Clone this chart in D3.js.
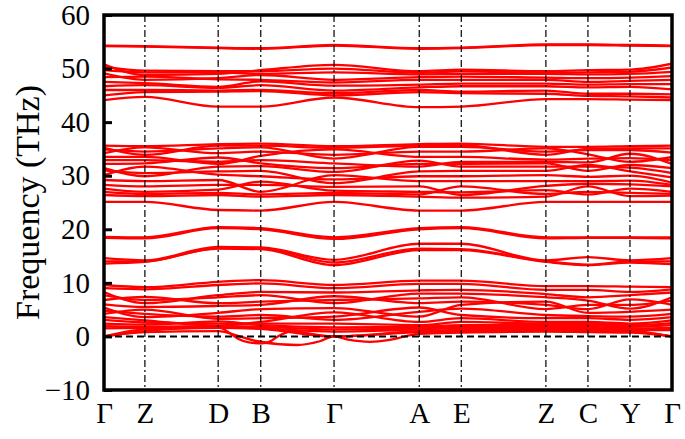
<!DOCTYPE html>
<html>
<head>
<meta charset="utf-8">
<script src="https://cdn.jsdelivr.net/npm/d3@7"></script>
<style>
  html, body { margin: 0; padding: 0; background: #fff; }
  svg { display: block; }
  text { font-family: "Liberation Serif", "Times New Roman", serif; }
</style>
</head>
<body>
<svg id="chart" width="685" height="439"></svg>
<script>
// ---- Data ----
const kLabels = ["Γ", "Z", "D", "B", "Γ", "A", "E", "Z", "C", "Y", "Γ"];
const kPos = [0, 0.072, 0.201, 0.276, 0.405, 0.555, 0.629, 0.778, 0.852, 0.926, 1.0];
const yTicks = [-10, 0, 10, 20, 30, 40, 50, 60];

// bands given at the high-symmetry points (THz)
const bandsTop = [
  [54.3, 54.2, 53.9, 53.8, 54.4, 53.8, 53.9, 54.5, 54.5, 54.4, 54.3],
  [54.2, 54.1, 53.8, 53.7, 54.3, 53.7, 53.8, 54.4, 54.4, 54.3, 54.2]
];
const bandsHigh = [
  [50.8, 48.8, 49.0, 49.7, 50.7, 49.5, 49.8, 49.5, 49.7, 49.8, 50.9],
  [50.3, 49.6, 49.5, 49.5, 50.0, 49.2, 49.5, 49.2, 49.3, 49.4, 50.2],
  [49.7, 49.3, 49.3, 49.0, 49.3, 48.9, 49.0, 49.0, 48.9, 49.0, 49.4],
  [49.1, 47.9, 48.2, 48.8, 47.9, 48.4, 48.5, 48.3, 48.2, 48.3, 48.6],
  [48.4, 48.5, 48.0, 47.9, 47.4, 47.9, 47.9, 47.9, 47.5, 47.7, 47.9],
  [47.5, 47.3, 46.6, 47.6, 46.8, 47.0, 47.2, 47.2, 47.0, 47.1, 47.1],
  [46.7, 46.9, 46.4, 46.9, 45.9, 46.5, 46.7, 46.7, 46.5, 46.6, 46.1],
  [46.0, 46.0, 45.9, 46.0, 45.4, 46.0, 45.7, 45.9, 45.3, 45.3, 45.2],
  [45.0, 45.6, 45.7, 45.8, 45.0, 45.6, 45.4, 45.3, 44.9, 44.8, 44.6],
  [44.1, 44.7, 42.9, 42.9, 44.6, 42.8, 42.9, 44.3, 44.3, 44.2, 44.1]
];
const bandsMid = [
  [35.6, 35.5, 35.9, 36.0, 35.5, 35.9, 36.0, 35.4, 35.4, 35.5, 35.6],
  [35.2, 33.9, 35.6, 35.6, 35.2, 35.6, 35.7, 33.9, 35.0, 35.1, 35.1],
  [34.9, 34.5, 35.1, 35.3, 33.2, 35.4, 35.4, 34.5, 34.8, 34.8, 34.3],
  [34.2, 35.3, 34.2, 34.5, 33.9, 34.5, 34.5, 35.1, 34.0, 32.6, 33.5],
  [33.5, 33.5, 32.2, 33.7, 34.9, 33.5, 33.5, 33.0, 33.2, 33.3, 32.9],
  [32.9, 32.9, 32.6, 32.9, 32.3, 31.7, 32.6, 32.6, 32.5, 34.1, 32.2],
  [32.2, 32.3, 33.4, 32.3, 31.4, 32.2, 32.2, 32.3, 30.9, 32.0, 31.4],
  [31.4, 29.9, 31.7, 31.8, 30.7, 32.8, 31.7, 31.7, 31.7, 31.5, 30.5],
  [31.0, 30.5, 30.8, 30.9, 28.6, 30.8, 30.9, 30.9, 32.0, 30.8, 29.7],
  [30.1, 31.7, 30.2, 29.9, 29.3, 29.9, 29.9, 30.1, 29.8, 30.0, 28.7],
  [29.2, 29.0, 29.2, 27.0, 30.1, 29.0, 29.0, 29.0, 29.0, 29.1, 28.3],
  [28.3, 28.0, 28.3, 28.3, 27.9, 28.0, 26.4, 28.1, 28.5, 28.4, 28.0],
  [27.6, 27.0, 27.4, 28.9, 27.2, 27.0, 26.9, 27.3, 26.5, 27.6, 27.0],
  [27.0, 26.6, 26.8, 26.5, 26.8, 26.5, 28.0, 26.6, 27.0, 26.8, 26.6],
  [26.4, 26.2, 26.4, 26.1, 26.4, 26.1, 25.9, 26.1, 28.0, 26.2, 26.3],
  [25.1, 25.1, 23.6, 23.5, 25.1, 23.5, 23.5, 25.1, 25.1, 25.1, 25.1]
];
const bandsGap = [
  [18.6, 18.5, 20.4, 20.2, 18.5, 20.2, 20.4, 18.5, 18.5, 18.5, 18.5],
  [18.4, 18.3, 20.2, 20.0, 18.2, 20.0, 20.2, 18.3, 18.4, 18.4, 18.3],
  [14.6, 14.2, 16.7, 16.6, 14.3, 17.3, 17.3, 14.2, 14.8, 14.2, 14.6],
  [14.0, 14.0, 16.5, 16.5, 13.8, 16.4, 16.3, 14.0, 13.4, 14.0, 14.0],
  [13.6, 13.9, 16.4, 16.3, 13.3, 16.1, 16.1, 13.9, 13.3, 13.8, 13.5]
];
const bandsLow = [
  [9.6, 9.2, 10.2, 10.5, 9.6, 10.4, 10.4, 9.4, 9.4, 9.3, 9.2],
  [9.0, 8.8, 9.6, 9.9, 9.0, 9.8, 9.8, 8.7, 8.7, 8.3, 8.8],
  [8.3, 6.2, 7.7, 8.3, 8.2, 8.6, 8.7, 7.9, 7.3, 7.7, 8.2],
  [7.7, 6.8, 7.3, 7.7, 6.2, 8.0, 8.0, 7.3, 6.7, 5.2, 7.3],
  [6.8, 7.4, 6.2, 6.5, 6.8, 7.1, 7.3, 5.1, 5.9, 5.9, 6.7],
  [6.0, 5.5, 5.7, 5.9, 7.5, 6.2, 6.5, 5.9, 5.1, 6.9, 5.9],
  [5.4, 3.6, 4.4, 5.1, 5.3, 3.7, 5.9, 6.5, 4.4, 4.6, 5.0],
  [4.8, 4.2, 3.7, 4.0, 3.1, 4.6, 5.2, 4.0, 3.8, 3.7, 4.2],
  [4.2, 5.0, 3.3, 3.4, 3.7, 5.4, 4.0, 3.4, 3.4, 3.1, 3.6],
  [3.6, 3.0, 2.0, 2.7, 4.5, 2.7, 3.4, 2.7, 2.7, 2.4, 3.0],
  [3.1, 2.6, 2.4, 2.4, 2.4, 2.1, 2.7, 2.4, 2.4, 2.1, 2.5],
  [2.4, 2.2, 2.8, 2.1, 1.7, 1.8, 2.1, 2.1, 2.1, 1.8, 2.1],
  [1.9, 1.8, 1.9, 1.8, 1.3, 1.5, 1.8, 1.8, 1.8, 1.5, 1.6],
  [1.5, 1.6, 1.7, 1.5, 0.9, 1.3, 1.6, 1.5, 1.5, 1.2, 1.2]
];
// acoustic branches (k, THz), including the imaginary (negative) pockets
const acoustic1 = [[0,0],[0.072,1.3],[0.201,1.6],[0.276,1.4],[0.405,0],[0.555,1.0],[0.629,1.2],[0.778,1.3],[0.852,1.3],[0.926,1.1],[1.0,0]];
const acoustic2 = [[0,0],[0.072,1.0],[0.201,1.7],[0.222,0.6],[0.235,-0.4],[0.255,-1.1],[0.278,-1.3],[0.295,-0.8],[0.306,0],[0.33,0.9],[0.405,0],[0.555,0.8],[0.629,1.0],[0.778,1.1],[0.852,1.0],[0.926,0.9],[1.0,0]];
const acoustic3 = [[0,0],[0.072,0.8],[0.201,1.0],[0.239,0],[0.27,-0.9],[0.34,-1.6],[0.38,-0.9],[0.405,0],[0.43,-0.6],[0.468,-1.0],[0.50,-0.7],[0.53,0],[0.555,0.5],[0.629,0.7],[0.778,0.9],[0.852,0.8],[0.926,0.7],[1.0,0]];

// ---- Layout ----
const W = 685, H = 439;
const m = { left: 104, right: 13, top: 15, bottom: 49 };
const serif = "'Liberation Serif', 'Times New Roman', serif";
const svg = d3.select("#chart");
const x = d3.scaleLinear().domain([0, 1]).range([m.left, W - m.right]);
const y = d3.scaleLinear().domain([-10, 60]).range([H - m.bottom, m.top]);

svg.append("clipPath").attr("id", "clip").append("rect")
  .attr("x", m.left).attr("y", m.top)
  .attr("width", W - m.left - m.right).attr("height", H - m.top - m.bottom);

const g = svg.append("g").attr("clip-path", "url(#clip)");
const line = d3.line().x(d => x(d[0])).y(d => y(d[1])).curve(d3.curveMonotoneX);
const hsBands = [].concat(bandsTop, bandsHigh, bandsMid, bandsGap, bandsLow)
  .map(b => b.map((v, i) => [kPos[i], v]));
const allBands = hsBands.concat([acoustic1, acoustic2, acoustic3]);

g.selectAll("path.band").data(allBands).enter().append("path")
  .attr("class", "band")
  .attr("d", line)
  .attr("fill", "none")
  .attr("stroke", "#ff0000")
  .attr("stroke-width", 2.3);

// high-symmetry vertical lines
svg.append("g").selectAll("line").data(kPos.slice(1, -1)).enter().append("line")
  .attr("x1", d => x(d)).attr("x2", d => x(d))
  .attr("y1", m.top).attr("y2", H - m.bottom)
  .attr("stroke", "#000").attr("stroke-width", 1.2)
  .attr("stroke-dasharray", "7,3,2,3");

// zero line
svg.append("line")
  .attr("x1", m.left).attr("x2", W - m.right)
  .attr("y1", y(0)).attr("y2", y(0))
  .attr("stroke", "#000").attr("stroke-width", 2)
  .attr("stroke-dasharray", "7,4");

// axes
const yAxis = d3.axisLeft(y).tickValues(yTicks).tickSize(-8).tickPadding(14);
const ya = svg.append("g").attr("transform", `translate(${m.left},0)`).call(yAxis)
  .attr("font-family", serif);
ya.select(".domain").remove();
ya.selectAll(".tick line").attr("stroke", "#000").attr("stroke-width", 3);
ya.selectAll(".tick text").attr("font-size", 29).attr("fill", "#000").style("font-family", serif);

const xAxis = d3.axisBottom(x).tickValues(kPos).tickFormat((d, i) => kLabels[i]).tickSize(0).tickPadding(12);
const xa = svg.append("g").attr("transform", `translate(0,${H - m.bottom})`).call(xAxis)
  .attr("font-family", serif);
xa.select(".domain").remove();
xa.selectAll(".tick text").attr("font-size", 29).attr("fill", "#000").style("font-family", serif);

// frame
svg.append("rect")
  .attr("x", m.left).attr("y", m.top)
  .attr("width", W - m.left - m.right).attr("height", H - m.top - m.bottom)
  .attr("fill", "none").attr("stroke", "#000").attr("stroke-width", 3.5);

// y title
svg.append("text")
  .attr("transform", `translate(27,${(m.top + H - m.bottom) / 2}) rotate(-90)`)
  .attr("text-anchor", "middle").attr("dominant-baseline", "central")
  .attr("font-size", 34).attr("fill", "#000")
  .style("font-family", serif)
  .text("Frequency (THz)");
</script>
</body>
</html>
